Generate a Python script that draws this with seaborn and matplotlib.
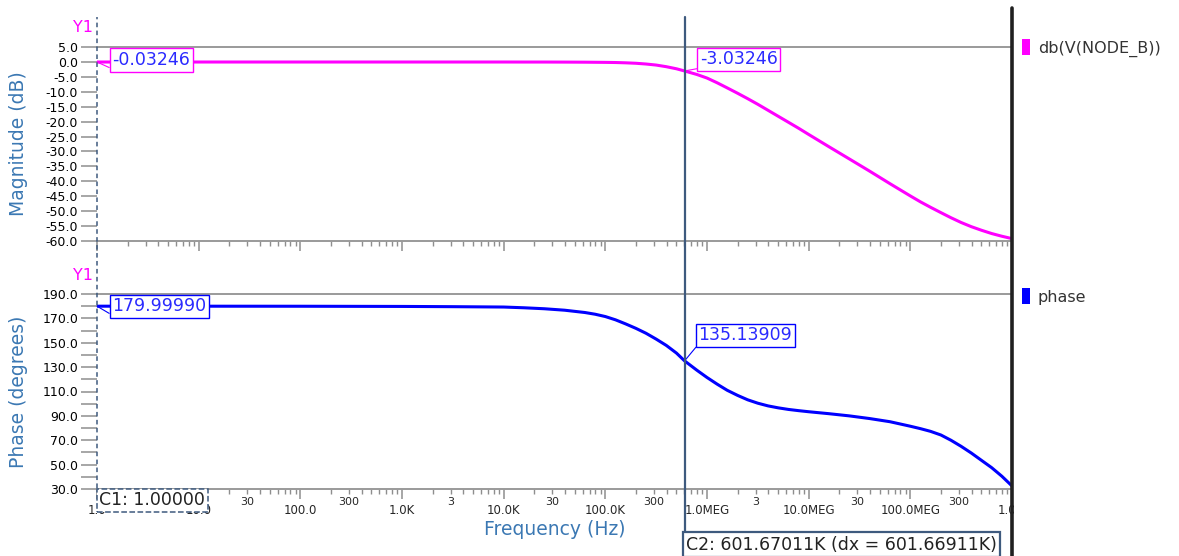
import numpy as np
import pandas as pd
import matplotlib
matplotlib.use('Agg')
import matplotlib.pyplot as plt
import matplotlib.ticker as mticker
import matplotlib.transforms as mtransforms
from matplotlib.lines import Line2D
from matplotlib.patches import Patch, Rectangle
import seaborn as sns

# AC sweep, values (same sweep points for both traces)
freq_hz = [1, 10, 100, 1e3, 3.16e3, 1e4,
           1.58e4, 2.51e4, 3.98e4, 6.31e4, 7.94e4,
           1e5, 1.26e5, 1.58e5, 2.0e5, 2.51e5, 3.16e5, 3.98e5, 5.01e5,
           6.0167011e5,
           7.94e5, 1e6, 1.26e6, 1.58e6, 2.0e6, 2.51e6, 3.16e6, 3.98e6, 5.01e6, 6.31e6, 7.94e6,
           1e7, 1.58e7, 2.51e7, 3.98e7, 6.31e7,
           1e8, 1.26e8, 1.58e8, 2.0e8, 2.51e8, 3.16e8, 3.98e8, 5.01e8, 6.31e8, 7.94e8, 1e9]
mag_db = [-0.03246, -0.03, -0.03, -0.03, -0.03, -0.03,
          -0.04, -0.04, -0.06, -0.09, -0.12,
          -0.15, -0.2, -0.3, -0.45, -0.7, -1.05, -1.6, -2.3,
          -3.03246,
          -4.2, -5.4, -7.0, -8.7, -10.5, -12.3, -14.2, -16.2, -18.2, -20.2, -22.2,
          -24.3, -28.4, -32.5, -36.6, -40.8,
          -44.9, -46.9, -48.7, -50.5, -52.2, -53.8, -55.2, -56.4, -57.5, -58.4, -59.2]
phase_deg = [179.9999, 179.99, 179.95, 179.8, 179.6, 179.3,
             178.7, 177.9, 176.7, 174.8, 173.4,
             171.5, 168.8, 165.5, 161.8, 157.8, 153.0, 147.8, 141.5,
             135.13909,
             127.5, 121.5, 116.0, 111.0, 106.8, 103.2, 100.4, 98.2, 96.6, 95.3, 94.3,
             93.4, 91.8, 90.0, 87.8, 85.2,
             81.5, 79.5, 77.3, 74.3, 70.0, 65.0, 59.5, 53.5, 47.5, 40.5, 32.5]

# cursors
c1_hz = 1.0
c2_hz = 601.67011e3
c2_mag = -3.03246
c2_phase = 135.13909

# axis ticks
mag_ticks = list(range(-60, 6, 5))
phase_ticks = list(range(30, 191, 20))
phase_minor = list(range(40, 190, 20))
decade_ticks = [1, 10, 100, 1e3, 1e4, 1e5, 1e6, 1e7, 1e8, 1e9]
decade_labels = ['1.0', '10.0', '100.0', '1.0K', '10.0K', '100.0K', '1.0MEG', '10.0MEG', '100.0MEG', '1.0G']
three_labels = ['3', '30', '300']

MAGENTA = '#ff00ff'
BLUE = '#0000ff'
CURSOR = '#3e5a7e'
LABEL = '#3b78b3'
GRAY = '#8e8e8e'

sns.set_style('white')
plt.rcParams['font.family'] = ['DejaVu Sans']

W, H = 1179, 556
fig = plt.figure(figsize=(W / 100, H / 100), dpi=100)
ax1 = fig.add_axes([97 / W, 1 - 241 / H, 915 / W, 194 / H])
ax2 = fig.add_axes([97 / W, 1 - 489 / H, 915 / W, 195 / H])

df = pd.DataFrame({'freq': freq_hz, 'mag': mag_db, 'phase': phase_deg})

for ax in (ax1, ax2):
    ax.set_xscale('log')

sns.lineplot(data=df, x='freq', y='mag', ax=ax1, color=MAGENTA, lw=2.2, estimator=None)
sns.lineplot(data=df, x='freq', y='phase', ax=ax2, color=BLUE, lw=2.2, estimator=None)

ax1.set_ylim(-60, 5)
ax2.set_ylim(30, 190)
ax1.set_yticks(mag_ticks)
ax1.set_yticklabels([f'{v:.1f}' for v in mag_ticks])
ax2.set_yticks(phase_ticks)
ax2.set_yticklabels([f'{v:.1f}' for v in phase_ticks])
ax2.set_yticks(phase_minor, minor=True)


def minor_fmt(v, pos):
    e = int(np.floor(np.log10(v) + 1e-9))
    if abs(v / 10 ** e - 3) < 1e-6:
        return three_labels[e % 3]
    return ''


for ax in (ax1, ax2):
    ax.set_xlim(decade_ticks[0], decade_ticks[-1])
    ax.set_xticks(decade_ticks)
    ax.set_xticklabels(decade_labels)
    ax.xaxis.set_minor_locator(mticker.LogLocator(base=10, subs=np.arange(2, 10), numticks=100))
    ax.xaxis.set_minor_formatter(mticker.FuncFormatter(minor_fmt))
    ax.tick_params(axis='y', which='both', direction='out', length=11.5, width=1.1, color=GRAY,
                   pad=2, labelsize=9, labelcolor='black', left=True)
    ax.tick_params(axis='x', which='major', direction='out', length=7, width=1.1, color=GRAY,
                   pad=3.5, labelsize=8.5, bottom=True)
    ax.tick_params(axis='x', which='minor', direction='out', length=3.6, width=1.0, color=GRAY,
                   pad=2.5, labelsize=8, bottom=True)
    for s in ('left', 'right'):
        ax.spines[s].set_visible(False)
    for s in ('top', 'bottom'):
        ax.spines[s].set_color('#9a9a9a')
        ax.spines[s].set_linewidth(1.4)
    ax.set_xlabel('')
    ax.set_ylabel('')
    ax.grid(False)

ax1.tick_params(axis='x', which='both', labelbottom=False)

ax1.set_ylabel('Magnitude (dB)', color=LABEL, fontsize=13.5)
ax2.set_ylabel('Phase (degrees)', color=LABEL, fontsize=13.5)
ax1.yaxis.set_label_coords(-0.075, 0.5)
ax2.yaxis.set_label_coords(-0.075, 0.5)
ax2.set_xlabel('Frequency (Hz)', color=LABEL, fontsize=13.5)
ax2.xaxis.set_label_coords(0.5, -0.16)

# Y1 markers
ax1.text(-0.004, 1.103, 'Y1', transform=ax1.transAxes, ha='right', va='center', color=MAGENTA, fontsize=11.5)
ax2.text(-0.004, 1.097, 'Y1', transform=ax2.transAxes, ha='right', va='center', color=MAGENTA, fontsize=11.5)

# cursor lines
tr = mtransforms.blended_transform_factory(ax1.transData, fig.transFigure)
fig.add_artist(Line2D([c2_hz, c2_hz], [0, 1 - 17 / H], transform=tr, color=CURSOR, lw=1.6, zorder=3))
fig.add_artist(Line2D([c1_hz, c1_hz], [1 - 488 / H, 1 - 17 / H], transform=tr, color=CURSOR, lw=1.1,
                      ls=(0, (3, 2.2)), zorder=3))

# right pane separator and white pane
trr = mtransforms.blended_transform_factory(ax1.transAxes, fig.transFigure)
fig.add_artist(Rectangle((1.0025, 0), 0.3, 1, transform=trr, fc='white', ec='none', zorder=1))
fig.add_artist(Line2D([1.0, 1.0], [0, 1 - 8 / H], transform=trr, color='#202020', lw=2.6, zorder=2))

# readouts
box_kw = dict(boxstyle='square,pad=0.15', fc='white', lw=1.0)
ann_kw = dict(textcoords='offset points', ha='left', va='center', color='#2a2aff', fontsize=12.5, zorder=6)
line_kw = dict(arrowstyle='-', lw=0.8, relpos=(0, 0), shrinkA=0, shrinkB=0)
ax1.annotate(f'{mag_db[0]:.5f}', xy=(freq_hz[0], mag_db[0]), xytext=(11, 1.5),
             bbox=dict(ec=MAGENTA, **box_kw), arrowprops=dict(color=MAGENTA, **line_kw), **ann_kw)
ax1.annotate(f'{c2_mag:.5f}', xy=(c2_hz, c2_mag), xytext=(11, 8.5),
             bbox=dict(ec=MAGENTA, **box_kw), arrowprops=dict(color=MAGENTA, **line_kw), **ann_kw)
ax2.annotate(f'{phase_deg[0]:.5f}', xy=(freq_hz[0], phase_deg[0]), xytext=(11, 0),
             bbox=dict(ec=BLUE, **box_kw), arrowprops=dict(color=BLUE, **line_kw), **ann_kw)
ax2.annotate(f'{c2_phase:.5f}', xy=(c2_hz, c2_phase), xytext=(10, 18.5),
             bbox=dict(ec=BLUE, **box_kw), arrowprops=dict(color=BLUE, **line_kw), **ann_kw)

# cursor boxes
trb = mtransforms.blended_transform_factory(ax2.transData, ax2.transAxes)
ax2.text(c1_hz * 1.05, -0.012, f'C1: {c1_hz:.5f}', transform=trb, ha='left', va='top', fontsize=12.5,
         color='#222222', zorder=7,
         bbox=dict(boxstyle='square,pad=0.15', fc='white', ec=CURSOR, lw=1.1, ls='--'))
fig.text(c2_hz * 1.035, 0.004, f'C2: {c2_hz / 1e3:.5f}K (dx = {(c2_hz - c1_hz) / 1e3:.5f}K)', transform=tr,
         ha='left', va='bottom', fontsize=12.5, color='#222222', zorder=7,
         bbox=dict(boxstyle='square,pad=0.2', fc='white', ec=CURSOR, lw=1.6))

# legends in the right pane
leg_kw = dict(loc='upper left', frameon=False, fontsize=11.5, handlelength=0.5, handleheight=1.2,
              handletextpad=0.5, borderpad=0, labelcolor='#333333')
fig.legend(handles=[Patch(fc=MAGENTA, ec='none', label='db(V(NODE_B))')],
           bbox_to_anchor=(1014 / W, 1 - 31 / H), **leg_kw)
fig.legend(handles=[Patch(fc=BLUE, ec='none', label='phase')],
           bbox_to_anchor=(1014 / W, 1 - 280 / H), **leg_kw)

fig.savefig('out.png', dpi=100, facecolor='white')
